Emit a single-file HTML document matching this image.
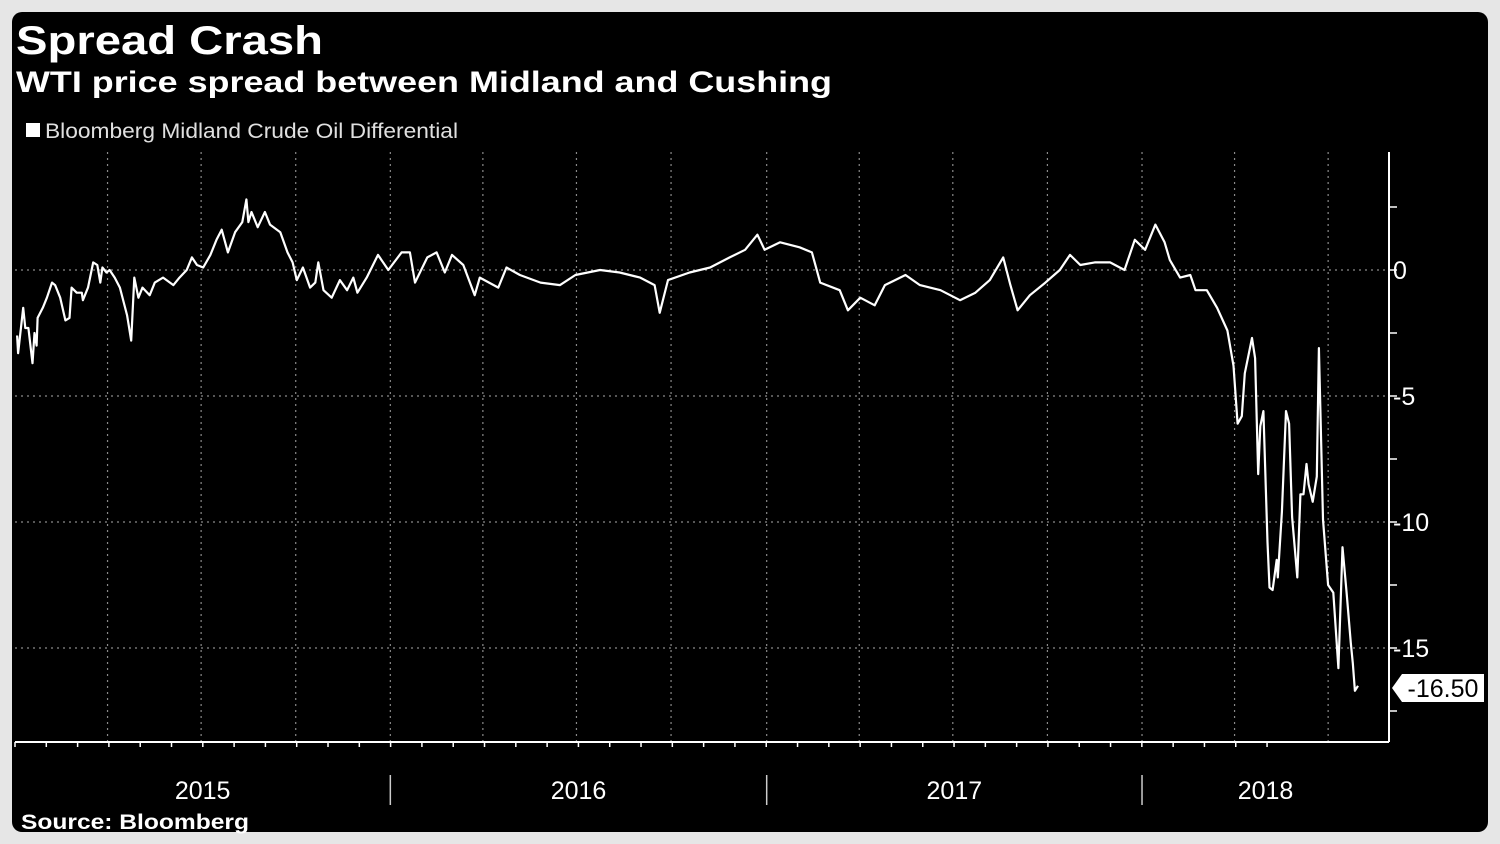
<!DOCTYPE html>
<html><head><meta charset="utf-8"><style>
html,body{margin:0;padding:0;background:#e6e6e6;}
svg{display:block;font-family:"Liberation Sans",sans-serif;}
</style></head><body>
<svg id="chart" width="1500" height="844" viewBox="0 0 1500 844" xmlns="http://www.w3.org/2000/svg">
<rect x="0" y="0" width="1500" height="844" fill="#e6e6e6"/>
<rect x="12" y="12" width="1476" height="820" rx="10" fill="#000"/>
<text x="16" y="54" fill="#fff" font-size="40" font-weight="bold" textLength="307" lengthAdjust="spacingAndGlyphs">Spread Crash</text>
<text x="16" y="92" fill="#fff" font-size="30" font-weight="bold" textLength="816" lengthAdjust="spacingAndGlyphs">WTI price spread between Midland and Cushing</text>
<g>
<rect x="26" y="123" width="14" height="14" fill="#fff"/>
<text x="45" y="138" fill="#e0e0e0" font-size="21" textLength="413" lengthAdjust="spacingAndGlyphs">Bloomberg Midland Crude Oil Differential</text>
</g>
<g id="grid"></g>
<g id="axes"></g>
<g id="series"></g>
<g>
<polygon points="1392,688 1402,674 1484,674 1484,702 1402,702" fill="#fff"/>
<text id="lastText" x="1443" y="697" fill="#000" font-size="25" text-anchor="middle">-16.50</text>
</g>
<text x="21" y="829" fill="#fff" font-size="21" font-weight="bold" textLength="228" lengthAdjust="spacingAndGlyphs">Source: Bloomberg</text>
</svg>
<script>
// days since 2015-01-01
const days = [2,3,8,10,13,17,19,21,22,27,31,36,39,44,49,53,55,60,65,66,71,76,80,83,85,89,92,97,102,109,113,116,120,124,131,136,144,154,160,167,172,177,183,190,196,201,207,214,221,225,227,230,236,243,248,258,265,270,274,280,287,292,295,300,308,316,323,329,333,342,353,363,376,384,389,401,410,418,425,436,447,452,470,478,491,511,530,545,569,588,608,622,627,635,656,676,695,710,722,729,744,763,775,783,802,810,822,836,846,866,880,900,919,934,948,961,968,975,987,1002,1016,1026,1036,1050,1065,1079,1089,1099,1109,1118,1123,1133,1143,1148,1159,1169,1179,1185,1189,1193,1196,1203,1206,1209,1211,1214,1218,1220,1223,1227,1228,1232,1236,1239,1242,1247,1250,1253,1256,1258,1262,1266,1268,1272,1277,1282,1287,1291,1295,1299,1301,1303,1306];
const values = [-2.6,-3.3,-1.5,-2.3,-2.3,-3.7,-2.5,-3.0,-1.9,-1.5,-1.1,-0.5,-0.6,-1.1,-2.0,-1.9,-0.7,-0.9,-0.9,-1.2,-0.7,0.3,0.2,-0.5,0.1,-0.1,0,-0.3,-0.7,-1.8,-2.8,-0.3,-1.1,-0.7,-1.0,-0.5,-0.3,-0.6,-0.3,0,0.5,0.2,0.1,0.6,1.2,1.6,0.7,1.5,1.9,2.8,1.9,2.3,1.7,2.3,1.8,1.5,0.7,0.3,-0.4,0.1,-0.7,-0.5,0.3,-0.8,-1.1,-0.4,-0.8,-0.3,-0.9,-0.3,0.6,0,0.7,0.7,-0.5,0.5,0.7,-0.1,0.6,0.2,-1.0,-0.3,-0.7,0.1,-0.2,-0.5,-0.6,-0.2,0,-0.1,-0.3,-0.6,-1.7,-0.4,-0.1,0.1,0.5,0.8,1.4,0.8,1.1,0.9,0.7,-0.5,-0.8,-1.6,-1.1,-1.4,-0.6,-0.2,-0.6,-0.8,-1.2,-0.9,-0.4,0.5,-0.6,-1.6,-1.0,-0.5,0,0.6,0.2,0.3,0.3,0,1.2,0.8,1.8,1.1,0.4,-0.3,-0.2,-0.8,-0.8,-1.5,-2.4,-3.8,-6.1,-5.8,-4.1,-2.7,-3.5,-8.1,-6.2,-5.6,-10.8,-12.6,-12.7,-11.5,-12.2,-9.6,-5.6,-6.1,-9.8,-12.2,-8.9,-8.9,-7.7,-8.5,-9.2,-8.2,-3.1,-9.9,-12.5,-12.8,-15.8,-11.0,-12.8,-14.8,-15.6,-16.7,-16.5];
const yTickValues = [0,-5,-10,-15];
const yMinorTicks = [2.5,0,-2.5,-5,-7.5,-10,-12.5,-15,-17.5];
const yearLabels = ["2015","2016","2017","2018"];
const yearStartDays = [0,365,731,1096];
const quarterDays = [90,181,273,365,455,546,638,731,821,912,1004,1096,1186,1277];

const NS="http://www.w3.org/2000/svg";
const X0=15, XR=1389, YTOP=152, YBOT=742;
function xScale(d){return 15 + d*1.0283;}
function yScale(v){return 270 - v*25.2;}
function mk(tag,attrs,parent){const e=document.createElementNS(NS,tag);for(const k in attrs)e.setAttribute(k,attrs[k]);parent.appendChild(e);return e;}
const grid=document.getElementById('grid'), axes=document.getElementById('axes'), series=document.getElementById('series');

quarterDays.forEach(d=>{
  const l=mk('line',{x1:xScale(d),x2:xScale(d),y1:YTOP,y2:YBOT,stroke:'#8a8a8a','stroke-width':1.2,'stroke-dasharray':'2,4'},grid);
  
  
});
yTickValues.forEach(v=>{
  const l=mk('line',{x1:X0,x2:XR,y1:yScale(v),y2:yScale(v),stroke:'#8a8a8a','stroke-width':1.2,'stroke-dasharray':'2,4'},grid);
  
  
  const t=mk('text',{x:XR+4,y:yScale(v)+9,fill:'#fff','font-size':25},axes);
  t.textContent=(v<0?'-':'')+Math.abs(v);
  
  
});
yMinorTicks.forEach(v=>{
  const l=mk('line',{x1:XR,x2:XR+8,y1:yScale(v),y2:yScale(v),stroke:'#fff','stroke-width':1.5},axes);
  
  
});
const ya=mk('line',{x1:XR,x2:XR,y1:YTOP,y2:YBOT,stroke:'#fff','stroke-width':2},axes);


const xa=mk('line',{x1:X0,x2:XR,y1:YBOT,y2:YBOT,stroke:'#fff','stroke-width':2},axes);


for(let m=0;m<=40;m++){
  const d=m*30.44;
  const xx=xScale(d);
  if(xx>XR)break;
  const t=mk('line',{x1:xx,x2:xx,y1:YBOT,y2:YBOT+5,stroke:'#fff','stroke-width':1.5},axes);
  
  
}
yearLabels.forEach((lab,i)=>{
  const s=xScale(yearStartDays[i]);
  const e=i<yearLabels.length-1?xScale(yearStartDays[i+1]):XR;
  if(i>0){
    const sep=mk('line',{x1:s,x2:s,y1:775,y2:805,stroke:'#ccc','stroke-width':1.5},axes);
    
    
  }
  const t=mk('text',{x:(s+e)/2,y:799,fill:'#fff','font-size':25,'text-anchor':'middle'},axes);
  t.textContent=lab;
  
  
});
const pts=days.map((d,i)=>xScale(d).toFixed(1)+','+yScale(values[i]).toFixed(1)).join(' ');
const pl=mk('polyline',{points:pts,fill:'none',stroke:'#fff','stroke-width':2.2,'stroke-linejoin':'round'},series);


</script>
</body></html>
